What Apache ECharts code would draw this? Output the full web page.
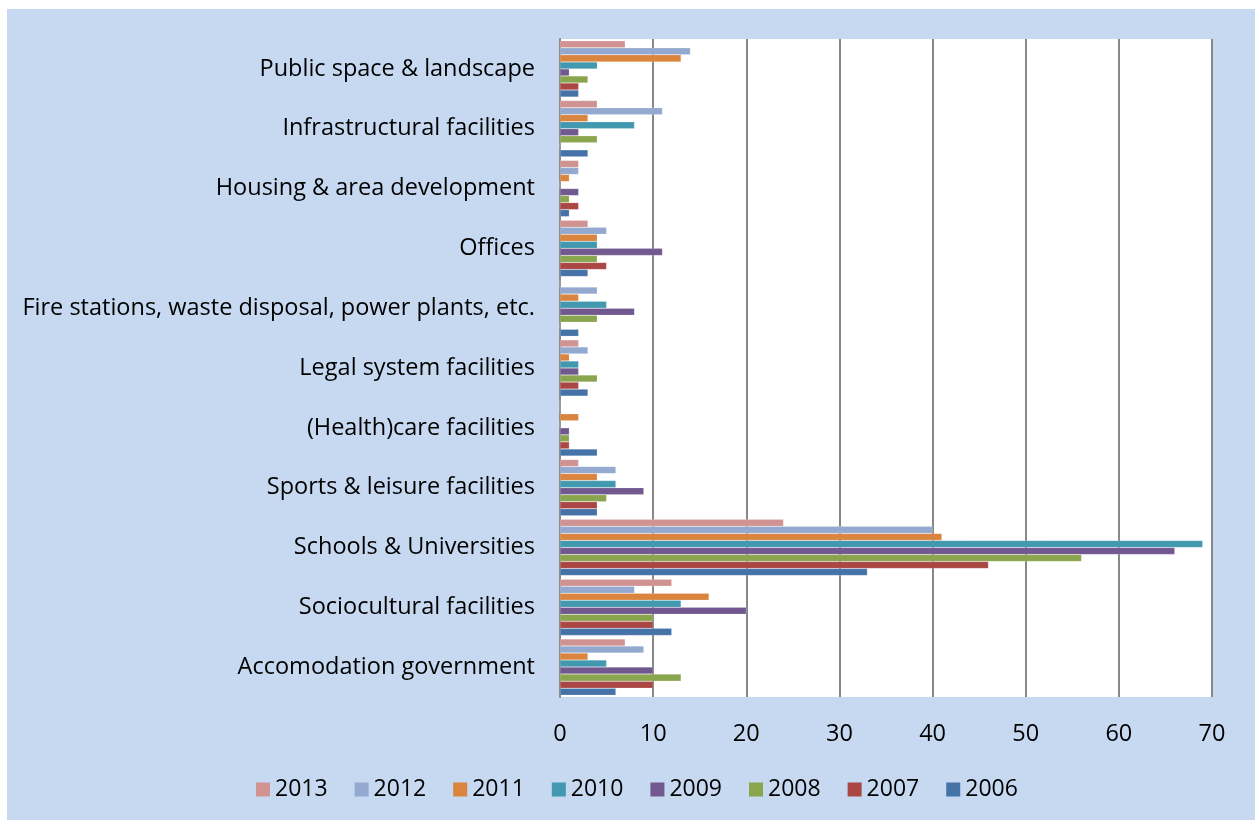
<!DOCTYPE html>
<html>
<head>
<meta charset="utf-8">
<script src="https://cdn.jsdelivr.net/npm/echarts@6/dist/echarts.min.js"></script>
<style>
  html, body { margin: 0; padding: 0; background: #fff; }
  #chart { position: absolute; left: 7px; top: 9px; width: 1248px; height: 811px; }
</style>
</head>
<body>
<div id="chart"></div>
<script>
// categories, bottom to top
const categories = [
  'Accomodation government',
  'Sociocultural facilities',
  'Schools & Universities',
  'Sports & leisure facilities',
  '(Health)care facilities',
  'Legal system facilities',
  'Fire stations, waste disposal, power plants, etc.',
  'Offices',
  'Housing & area development',
  'Infrastructural facilities',
  'Public space & landscape'
]

const years = ['2013', '2012', '2011', '2010', '2009', '2008', '2007', '2006']
const colors = ['#D19392', '#93A9CF', '#DB843D', '#4198AF', '#71588F', '#89A54E', '#AA4643', '#4572A7']

const v2013 = [7, 12, 24, 2, 0, 2, 0, 3, 2, 4, 7]
const v2012 = [9, 8, 40, 6, 0, 3, 4, 5, 2, 11, 14]
const v2011 = [3, 16, 41, 4, 2, 1, 2, 4, 1, 3, 13]
const v2010 = [5, 13, 69, 6, 0, 2, 5, 4, 0, 8, 4]
const v2009 = [10, 20, 66, 9, 1, 2, 8, 11, 2, 2, 1]
const v2008 = [13, 10, 56, 5, 1, 4, 4, 4, 1, 4, 3]
const v2007 = [10, 10, 46, 4, 1, 2, 0, 5, 2, 0, 2]
const v2006 = [6, 12, 33, 4, 4, 3, 2, 3, 1, 3, 2]

const values = [v2013, v2012, v2011, v2010, v2009, v2008, v2007, v2006]

const chart = echarts.init(document.getElementById('chart'))

const font = '"Open Sans", Lato, sans-serif'

const series = years.map((y, i) => ({
  name: y,
  type: 'bar',
  data: values[i],
  barGap: '0%',
  barCategoryGap: '6%',
  itemStyle: {
    color: colors[i],
    borderColor: 'rgba(255,255,255,0.35)',
    borderWidth: 0.5
  }
}))

const option = {
  backgroundColor: '#C6D9F1',
  animation: false,
  color: colors,
  legend: {
    data: years,
    left: 244,
    top: 764,
    itemWidth: 14,
    itemHeight: 14,
    itemGap: 27,
    icon: 'rect',
    itemStyle: { borderWidth: 0 },
    textStyle: { fontFamily: font, fontSize: 23, color: '#000' }
  },
  grid: {
    left: 553,
    right: 43,
    top: 30,
    bottom: 123,
    show: true,
    backgroundColor: '#fff',
    borderWidth: 0
  },
  xAxis: {
    type: 'value',
    min: 0,
    max: 70,
    interval: 10,
    axisLine: { show: false },
    axisTick: { show: false },
    axisLabel: { margin: 25, fontFamily: font, fontSize: 23.5, color: '#000' },
    splitLine: { lineStyle: { color: '#888', width: 2 } }
  },
  yAxis: {
    type: 'category',
    data: categories,
    axisLine: { show: true, lineStyle: { color: '#888', width: 2 } },
    axisTick: { show: false },
    axisLabel: { margin: 25, fontFamily: font, fontSize: 23.5, color: '#000' }
  },
  series: series
}

chart.setOption(option)
</script>
</body>
</html>
